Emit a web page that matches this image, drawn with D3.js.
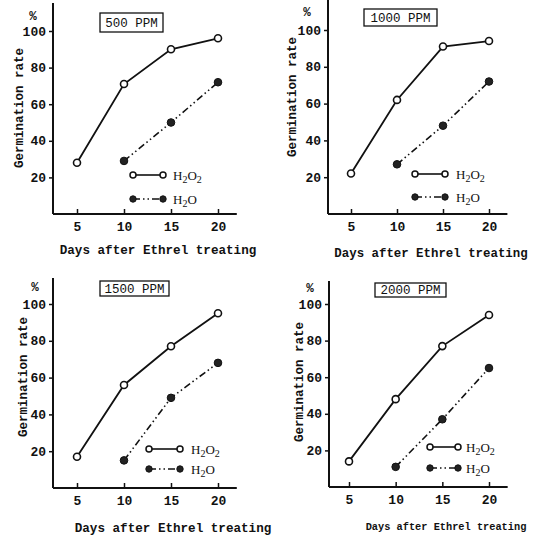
<!DOCTYPE html>
<html>
<head>
<meta charset="utf-8">
<script src="https://cdn.jsdelivr.net/npm/d3@7"></script>
<style>
  body { margin: 0; background: #fff; }
  svg { display: block; }
  text { fill: #111; }
  .axis text { font-family: "Liberation Mono", "DejaVu Sans Mono", monospace; font-size: 13px; font-weight: bold; }
  .label { font-family: "Liberation Mono", "DejaVu Sans Mono", monospace; font-size: 12.5px; font-weight: bold; }
  .legend { font-family: "Liberation Serif", "DejaVu Serif", serif; font-size: 13px; }
</style>
</head>
<body>
<div id="chart"></div>
<script>
// data
const days = [5, 10, 15, 20];
const concentrations = ['500 PPM', '1000 PPM', '1500 PPM', '2000 PPM'];
const h2o2Values = [
    [28, 71, 90, 96],
    [22, 62, 91, 94],
    [17, 56, 77, 95],
    [14, 48, 77, 94]
];
// water control starts at day 10
const h2oDays = [10, 15, 20];
const h2oValues = [
    [29, 50, 72],
    [27, 48, 72],
    [15, 49, 68],
    [11, 37, 65]
];
const yTicks = [20, 40, 60, 80, 100];

// layout of the four panels (pixels in the 542x541 page)
// xlab = [centre x, baseline y, font size]
const panels = [
    { axisX: 53,  x5: 77,  x20: 218, y0: 214, y100: 31,  top: 3,
      box: [100, 13, 63, 19], pct: [33, 20], ylab: [19, 108], xlab: [158, 254, 12.6],
      leg: [133, 163, 175, 199, 173] },
    { axisX: 328, x5: 351, x20: 489, y0: 214, y100: 30,  top: 0,
      box: [364, 9, 73, 17],  pct: [307, 16], ylab: [292, 97], xlab: [431, 257, 12.4],
      leg: [415, 445, 174, 197, 456] },
    { axisX: 53,  x5: 77,  x20: 218, y0: 488, y100: 304, top: 278,
      box: [100, 281, 69, 15], pct: [35, 291], ylab: [23, 377], xlab: [173, 532, 12.6],
      leg: [149, 180, 449, 469, 191] },
    { axisX: 329, x5: 349, x20: 489, y0: 487, y100: 304, top: 281,
      box: [375, 283, 71, 14], pct: [310, 292], ylab: [299, 382], xlab: [446, 530, 10.3],
      leg: [430, 458, 447, 468, 466] }
];

const width = 542, height = 541;
const svg = d3.select('#chart').append('svg')
    .attr('width', width)
    .attr('height', height);

const dashH2O = '7,3,1.5,3,1.5,3';

panels.forEach((p, i) => {
    const g = svg.append('g');

    const xScale = d3.scaleLinear().domain([5, 20]).range([p.x5, p.x20]);
    const yScale = d3.scaleLinear().domain([0, 100]).range([p.y0, p.y100]);

    // axis lines
    g.append('line')
        .attr('x1', p.axisX).attr('x2', p.axisX)
        .attr('y1', p.y0).attr('y2', p.top)
        .attr('stroke', '#111').attr('stroke-width', 2);
    g.append('line')
        .attr('x1', p.axisX).attr('x2', xScale(22))
        .attr('y1', p.y0).attr('y2', p.y0)
        .attr('stroke', '#111').attr('stroke-width', 2);

    const yAxis = d3.axisLeft(yScale).tickValues(yTicks).tickSize(4).tickPadding(3);
    const yg = g.append('g')
        .attr('class', 'axis')
        .attr('transform', `translate(${p.axisX},0)`)
        .call(yAxis);
    yg.select('.domain').remove();
    yg.selectAll('line').attr('stroke', '#111').attr('stroke-width', 1.5);

    const xAxis = d3.axisBottom(xScale).tickValues(days).tickSize(-5).tickPadding(8);
    const xg = g.append('g')
        .attr('class', 'axis')
        .attr('transform', `translate(0,${p.y0})`)
        .call(xAxis);
    xg.select('.domain').remove();
    xg.selectAll('line').attr('stroke', '#111').attr('stroke-width', 1.5);

    // title box
    g.append('rect')
        .attr('x', p.box[0]).attr('y', p.box[1])
        .attr('width', p.box[2]).attr('height', p.box[3])
        .attr('fill', 'none').attr('stroke', '#111').attr('stroke-width', 1.3);
    g.append('text')
        .attr('class', 'label')
        .attr('x', p.box[0] + p.box[2] / 2)
        .attr('y', p.box[1] + p.box[3] / 2)
        .attr('dy', '0.35em')
        .attr('text-anchor', 'middle')
        .style('font-weight', 'normal')
        .text(concentrations[i]);

    // % sign
    g.append('text')
        .attr('class', 'label')
        .attr('x', p.pct[0]).attr('y', p.pct[1])
        .attr('text-anchor', 'middle')
        .text('%');

    // axis titles
    g.append('text')
        .attr('class', 'label')
        .attr('transform', `translate(${p.ylab[0]},${p.ylab[1]}) rotate(-90)`)
        .attr('text-anchor', 'middle')
        .attr('dy', '0.35em')
        .text('Germination rate');
    g.append('text')
        .attr('class', 'label')
        .attr('x', p.xlab[0]).attr('y', p.xlab[1])
        .attr('text-anchor', 'middle')
        .style('font-size', p.xlab[2] + 'px')
        .text('Days after Ethrel treating');

    // series
    const line = d3.line().x(d => xScale(d[0])).y(d => yScale(d[1]));
    const h2o2 = days.map((d, j) => [d, h2o2Values[i][j]]);
    const h2o = h2oDays.map((d, j) => [d, h2oValues[i][j]]);

    g.append('path')
        .datum(h2o2)
        .attr('d', line)
        .attr('fill', 'none').attr('stroke', '#111').attr('stroke-width', 1.8);
    g.append('path')
        .datum(h2o)
        .attr('d', line)
        .attr('fill', 'none').attr('stroke', '#111').attr('stroke-width', 1.6)
        .attr('stroke-dasharray', dashH2O);

    g.selectAll('.pt-h2o2')
        .data(h2o2)
        .enter()
        .append('circle')
        .attr('cx', d => xScale(d[0]))
        .attr('cy', d => yScale(d[1]))
        .attr('r', 3.5)
        .attr('fill', '#fff').attr('stroke', '#111').attr('stroke-width', 1.6);
    g.selectAll('.pt-h2o')
        .data(h2o)
        .enter()
        .append('circle')
        .attr('cx', d => xScale(d[0]))
        .attr('cy', d => yScale(d[1]))
        .attr('r', 3.8)
        .attr('fill', '#222').attr('stroke', '#111').attr('stroke-width', 1);

    // legend
    const [lx1, lx2, ly1, ly2, tx] = p.leg;
    g.append('line')
        .attr('x1', lx1).attr('x2', lx2).attr('y1', ly1).attr('y2', ly1)
        .attr('stroke', '#111').attr('stroke-width', 1.6);
    g.append('line')
        .attr('x1', lx1).attr('x2', lx2).attr('y1', ly2).attr('y2', ly2)
        .attr('stroke', '#111').attr('stroke-width', 1.6)
        .attr('stroke-dasharray', dashH2O);
    [lx1, lx2].forEach(x => {
        g.append('circle').attr('cx', x).attr('cy', ly1).attr('r', 3)
            .attr('fill', '#fff').attr('stroke', '#111').attr('stroke-width', 1.5);
        g.append('circle').attr('cx', x).attr('cy', ly2).attr('r', 3.2)
            .attr('fill', '#222').attr('stroke', '#111').attr('stroke-width', 1);
    });
    const t1 = g.append('text').attr('class', 'legend').attr('x', tx).attr('y', ly1).attr('dy', '0.35em');
    t1.append('tspan').text('H');
    t1.append('tspan').attr('dy', 3).style('font-size', '10px').text('2');
    t1.append('tspan').attr('dy', -3).text('O');
    t1.append('tspan').attr('dy', 3).style('font-size', '10px').text('2');
    const t2 = g.append('text').attr('class', 'legend').attr('x', tx).attr('y', ly2).attr('dy', '0.35em');
    t2.append('tspan').text('H');
    t2.append('tspan').attr('dy', 3).style('font-size', '10px').text('2');
    t2.append('tspan').attr('dy', -3).text('O');
});
</script>
</body>
</html>
